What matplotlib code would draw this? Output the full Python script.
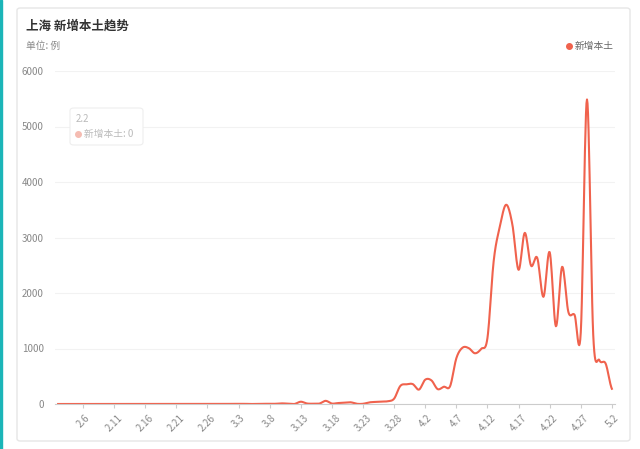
import datetime as dt
import numpy as np
import matplotlib
matplotlib.use("Agg")
import matplotlib.pyplot as plt
from matplotlib.patches import FancyBboxPatch, Rectangle
from matplotlib.lines import Line2D

plt.rcParams['font.family'] = ['Noto Sans CJK SC', 'DejaVu Sans']

feb = [0]*27
mar = [1,3,2,3,0,3,4,3,4,11,5,1,41,9,5,8,57,8,17,24,31,4,4,29,38,45,50,96,326,355,358]
apr = [260,438,425,268,311,322,824,1015,1006,914,994,1189,2573,3200,3590,3238,2417,3084,
       2494,2634,1931,2736,1401,2472,1661,1606,1292,5487,1249,788]
may = [727,274]
values = feb + mar + apr + may
start = dt.date(2022, 2, 2)
dates = [start + dt.timedelta(days=i) for i in range(len(values))]
labels = [f"{d.month}.{d.day}" for d in dates]

fig = plt.figure(figsize=(6.4, 4.49), dpi=100)
fig.patch.set_facecolor('white')
fig.patches.append(FancyBboxPatch((17/640, 8/449), 613/640, 433/449, boxstyle="round,pad=0,rounding_size=0.005",
                                  transform=fig.transFigure, fc='white', ec='#e6e6e6', lw=1, zorder=-10))
fig.patches.append(Rectangle((0, 0), 1.5/640, 1, transform=fig.transFigure, color='#1bb5b8', zorder=-10))

ax = fig.add_axes([55/640, 45/449, 560/640, 333/449], zorder=5)
ax.set_facecolor('none')
x = np.arange(len(values))
y = np.array(values, float)
P = np.concatenate([[y[0]], y, [y[-1]]])
xs, ys = [], []
for i in range(len(y)-1):
    t = np.linspace(0, 1, 12, endpoint=False)
    p0, p1, p2, p3 = P[i], P[i+1], P[i+2], P[i+3]
    yy = 0.5*((2*p1) + (-p0+p2)*t + (2*p0-5*p1+4*p2-p3)*t**2 + (-p0+3*p1-3*p2+p3)*t**3)
    xs.extend(i+t); ys.extend(yy)
xs.append(x[-1]); ys.append(y[-1])
ax.plot(xs, ys, color='#f0624d', lw=1.5)

ax.set_ylim(0, 6000)
ax.set_xlim(-0.5, len(values)-0.5)
ax.set_yticks(range(0, 6001, 1000))
ax.yaxis.grid(True, color='#f2f2f2', lw=0.8)
ax.set_axisbelow(True)
ticks = list(range(4, len(values), 5))
ax.set_xticks(ticks)
ax.set_xticklabels([labels[i] for i in ticks], rotation=45, fontsize=7, color='#888888')
ax.tick_params(axis='y', labelsize=7, colors='#888888', length=0, pad=8)
ax.tick_params(axis='x', length=3, color='#cccccc')
for s in ['top', 'right', 'left']:
    ax.spines[s].set_visible(False)
ax.spines['bottom'].set_color('#cccccc')

fig.text(26/640, 1-26/449, '上海 新增本土趋势', fontsize=9, fontweight='bold', color='#333333', va='center')
fig.text(26/640, 1-46/449, '单位: 例', fontsize=7, color='#888888', va='center')
fig.text(575/640, 1-46/449, '新增本土', fontsize=7, color='#666666', va='center', ha='left')
fig.lines.append(Line2D([569/640], [1-46/449], transform=fig.transFigure, marker='o', ms=4,
                        color='#f0624d', lw=0))

fig.patches.append(FancyBboxPatch((70/640, 1-145/449), 73/640, 37/449, boxstyle="round,pad=0,rounding_size=0.006",
                                  transform=fig.transFigure, fc='white', ec='#eeeeee', lw=0.8, zorder=10))
fig.text(76/640, 1-119/449, '2.2', fontsize=7, color='#bbbbbb', va='center', zorder=11)
fig.lines.append(Line2D([78/640], [1-134/449], transform=fig.transFigure, marker='o', ms=4,
                        color='#f5bcb2', lw=0, zorder=11))
fig.text(84/640, 1-134/449, '新增本土: 0', fontsize=7, color='#bbbbbb', va='center', zorder=11)

fig.savefig('out.png', dpi=100)
